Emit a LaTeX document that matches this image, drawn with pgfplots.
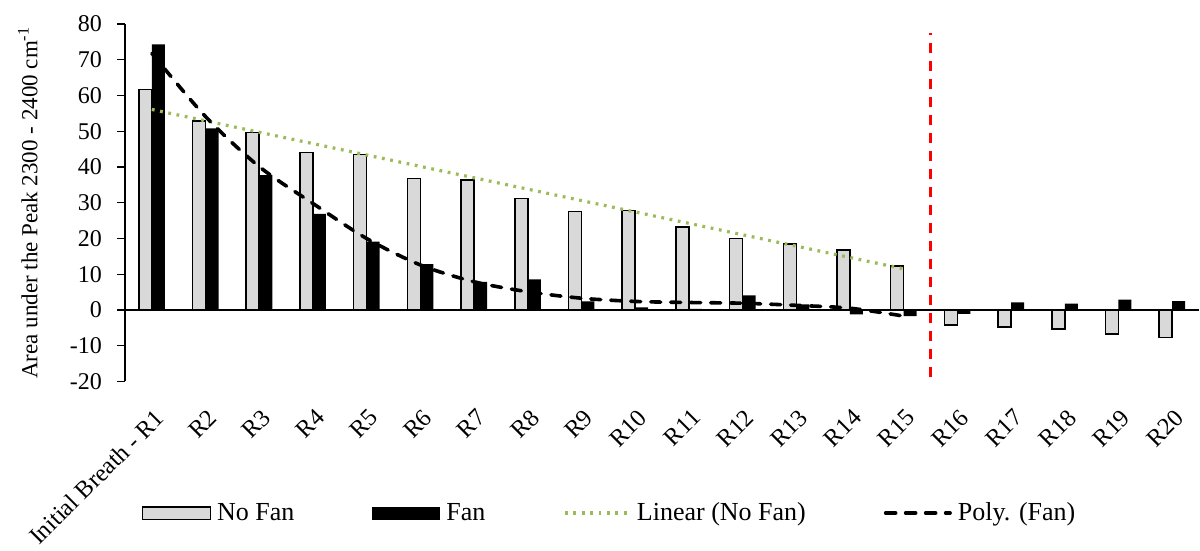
\documentclass[border=0pt]{standalone}
\usepackage{fontspec}
\setmainfont{Liberation Serif}
\usepackage{pgfplots}
\pgfplotsset{compat=1.18}
\definecolor{nofan}{HTML}{D9D9D9}
\definecolor{trendgreen}{HTML}{9BBB59}
\pgfplotsset{
  lineleg/.style={legend image code/.code={\draw[##1] (0.9pt,0pt) -- (33.1pt,0pt);}},
}
\begin{document}
\begin{tikzpicture}
\useasboundingbox (-62.5pt,-84.75pt) rectangle (537.5pt,190.75pt);
\begin{axis}[
  at={(0,0)}, anchor=south west,
  scale only axis, width=537pt, height=178.75pt,
  xmin=-0.5, xmax=19.5, ymin=-20, ymax=80,
  axis x line*=bottom, axis y line*=left,
  x axis line style={draw=none},
  y axis line style={-, line width=0.6pt},
  xtick={0,...,19},
  xticklabels={Initial Breath - R1,R2,R3,R4,R5,R6,R7,R8,R9,R10,R11,R12,R13,R14,R15,R16,R17,R18,R19,R20},
  xtick style={draw=none},
  ytick={-20,-10,...,80},
  ytick style={line width=0.6pt, black},
  tick align=outside, major tick length=4pt,
  /pgf/number format/assume math mode=true,
  yticklabel style={font=\fontsize{12}{14}\selectfont, xshift=-4pt},
  xticklabel style={font=\fontsize{12.2}{14}\selectfont, rotate=45, anchor=north east, xshift=-2.5pt, yshift=-3.5pt},
  ylabel={Area under the Peak 2300 - 2400 cm\textsuperscript{-1}},
  ylabel style={font=\fontsize{11.5}{14}\selectfont, at={(axis description cs:-0.0905,0.5)}, anchor=center},
  legend style={at={(axis description cs:0.452,-0.368)}, anchor=center, draw=none, fill=none,
    legend columns=4, font=\fontsize{13}{15}\selectfont,
    /tikz/every even column/.append style={column sep=37pt},
    /tikz/every odd column/.append style={column sep=1pt}},
]
\addplot[ybar, bar width=6.5pt, bar shift=-3.25pt, fill=nofan, draw=black, line width=0.75pt,
  legend image code/.code={\draw[fill=nofan, draw=black, line width=0.75pt] (0pt,-3.1pt) rectangle (34pt,3.1pt);}]
coordinates {(0,61.7) (1,52.9) (2,49.7) (3,44.1) (4,43.5) (5,36.8) (6,36.3) (7,31.2) (8,27.5) (9,27.8)
 (10,23.2) (11,20.0) (12,18.5) (13,16.8) (14,12.3) (15,-4.2) (16,-4.7) (17,-5.3) (18,-6.7) (19,-7.7)};
\addlegendentry{No Fan}
\addplot[ybar, bar width=6.5pt, bar shift=3.25pt, fill=black, draw=none,
  legend image code/.code={\fill[black] (0pt,-3.25pt) rectangle (34pt,3.25pt);}]
coordinates {(0,74.3) (1,50.8) (2,37.7) (3,26.9) (4,19.1) (5,12.8) (6,7.9) (7,8.6) (8,2.4) (9,0.7)
 (10,0.3) (11,4.1) (12,1.6) (13,-1.2) (14,-1.7) (15,-1.1) (16,2.1) (17,1.8) (18,2.9) (19,2.5)};
\addlegendentry{Fan}
\addplot[sharp plot, trendgreen, line width=1.6pt, line cap=butt, dash pattern=on 1.4pt off 2.8pt, lineleg]
coordinates {(0,56.1) (14,11.5)};
\addlegendentry{Linear (No Fan)}
\addplot[smooth, black, line width=1.8pt, line cap=round, dash pattern=on 5pt off 5pt, lineleg]
coordinates {(0,71.8) (1,54.1) (2,40.1) (3,29.8) (4,20.0) (5,12.6) (6,7.9) (7,5.1) (8,3.3) (9,2.4)
 (10,2.1) (11,1.9) (12,1.3) (13,0.5) (14,-1.7)};
\addlegendentry{Poly. (Fan)}
\addplot[forget plot, sharp plot, red, line width=1.3pt, dash pattern=on 5pt off 4pt]
coordinates {(14.5,-18.7) (14.5,77.6)};
\draw[black, line width=0.6pt] (axis cs:-0.5,0) -- (axis cs:19.5,0);
\end{axis}
\end{tikzpicture}
\end{document}
